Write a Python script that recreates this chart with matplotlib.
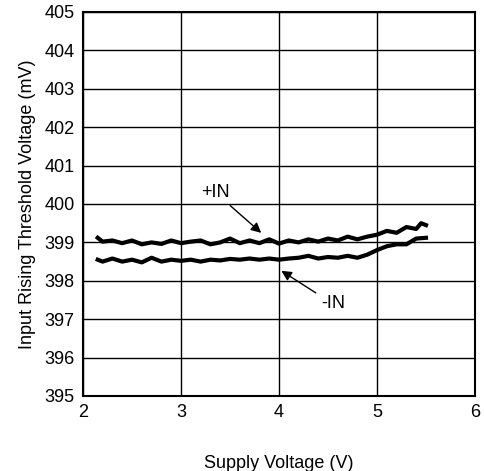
import matplotlib
matplotlib.use("Agg")
import matplotlib.pyplot as plt

plus_v = [2.15, 2.2, 2.3, 2.4, 2.5, 2.6, 2.7, 2.8, 2.9, 3.0, 3.1, 3.2, 3.3, 3.4, 3.5, 3.6, 3.7, 3.8,
          3.9, 4.0, 4.1, 4.2, 4.3, 4.4, 4.5, 4.6, 4.7, 4.8, 4.9, 5.0, 5.1, 5.2, 5.3, 5.4, 5.45, 5.5]
plus_mv = [399.12, 399.02, 399.05, 398.98, 399.05, 398.95, 399.0, 398.96, 399.05, 398.98, 399.02,
           399.05, 398.95, 399.0, 399.1, 398.98, 399.05, 398.98, 399.08, 398.97, 399.05, 399.0,
           399.08, 399.02, 399.1, 399.05, 399.15, 399.08, 399.15, 399.2, 399.3, 399.25, 399.4,
           399.35, 399.5, 399.45]
minus_v = [2.15, 2.2, 2.3, 2.4, 2.5, 2.6, 2.7, 2.8, 2.9, 3.0, 3.1, 3.2, 3.3, 3.4, 3.5, 3.6, 3.7, 3.8,
           3.9, 4.0, 4.1, 4.2, 4.3, 4.4, 4.5, 4.6, 4.7, 4.8, 4.9, 5.0, 5.1, 5.2, 5.3, 5.4, 5.5]
minus_mv = [398.55, 398.5, 398.58, 398.5, 398.55, 398.48, 398.6, 398.5, 398.55, 398.52, 398.55,
            398.5, 398.55, 398.53, 398.57, 398.55, 398.58, 398.55, 398.58, 398.55, 398.58, 398.6,
            398.65, 398.58, 398.62, 398.6, 398.65, 398.6, 398.68, 398.8, 398.9, 398.95, 398.95,
            399.1, 399.12]

plt.rcParams["font.family"] = ["Liberation Sans", "DejaVu Sans"]
fig = plt.figure(figsize=(4.85, 4.71), dpi=100)
ax = fig.add_axes([83 / 485, 1 - 396 / 471, 392 / 485, 384 / 471])
ax.plot(plus_v, plus_mv, color="black", lw=3)
ax.plot(minus_v, minus_mv, color="black", lw=3)
ax.set_xlim(2, 6)
ax.set_ylim(395, 405)
ax.set_xticks(range(2, 7))
ax.set_yticks(range(395, 406))
ax.grid(True, color="black", lw=1)
for s in ax.spines.values():
    s.set_linewidth(1.5)
ax.tick_params(length=0, labelsize=13, pad=6)
ax.set_xlabel("Supply Voltage (V)", fontsize=13, labelpad=24)
ax.set_ylabel("Input Rising Threshold Voltage (mV)", fontsize=13, labelpad=6)
arrow = dict(arrowstyle="-|>", color="black", lw=1, mutation_scale=15)
ax.annotate("+IN", xy=(3.84, 399.2), xytext=(3.35, 400.3), fontsize=13,
            ha="center", va="center", arrowprops=arrow)
ax.annotate("-IN", xy=(4.0, 398.3), xytext=(4.55, 397.4), fontsize=13,
            ha="center", va="center", arrowprops=arrow)
fig.savefig("out.png")
